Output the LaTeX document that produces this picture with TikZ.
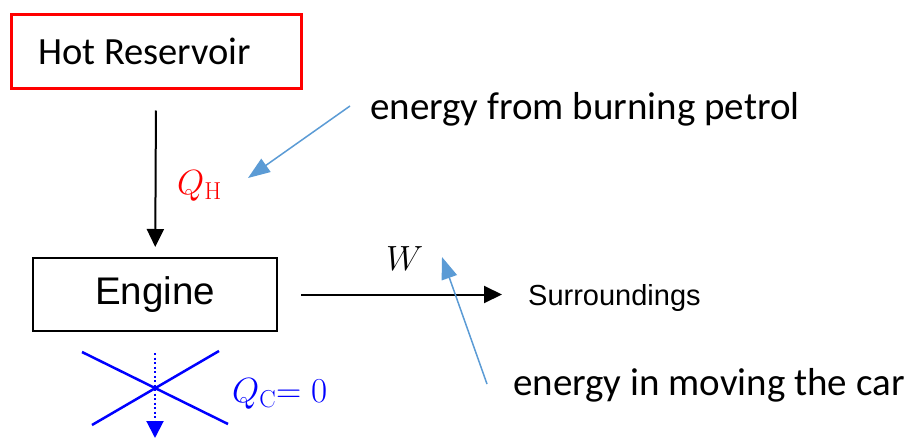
\RequirePackage{fix-cm}
\documentclass[tikz,border=0pt]{standalone}
\usepackage{fontspec}
\newfontfamily\calibri{Carlito}
\newfontfamily\arial{Liberation Sans}
\usetikzlibrary{arrows.meta}
\definecolor{lblue}{HTML}{5B9BD5}
\definecolor{xblue}{HTML}{0000FF}
\tikzset{
  box/.style={draw, line width=2pt, inner ysep=0pt},
  cal/.style={font=\calibri\fontsize{39}{40}\selectfont, inner sep=0pt},
  ari/.style={font=\arial\fontsize{38.5}{40}\selectfont, inner sep=0pt},
  mathlbl/.style={inner sep=0pt, anchor=base west, font=\fontsize{35}{37}\selectfont},
  flow/.style={line width=2pt, -{Triangle[length=18pt,width=17pt]}},
  note/.style={draw=lblue, line width=1.5pt, -{Triangle[length=22pt,width=16pt]}, fill=lblue},
  crossline/.style={draw=xblue, line width=2.5pt},
}
\begin{document}
\begin{tikzpicture}[x=1pt,y=-1pt]
\useasboundingbox (0,0) rectangle (911,442);

% boxes
\node[box, draw=red, line width=2.5pt, cal, font=\calibri\fontsize{38.5}{40}\selectfont,
      inner xsep=27pt, minimum height=74pt, anchor=north west] (hot) at (10,13)
      {\makebox[236pt][l]{Hot Reservoir}};
\node[box, ari, minimum width=244pt, minimum height=73pt] (eng) at (155,294.5) {Engine};

% texts
\node[ari, font=\arial\fontsize{29}{30}\selectfont, anchor=base west] (surr) at (528,305) {Surroundings};
\node[cal, anchor=base west] (petrol) at (370,119) {energy from burning petrol};
\node[cal, anchor=base west] (car) at (513,395) {energy in moving the car};
\node[mathlbl, red] (qh) at (177,194) {$Q_{\mathrm{H}}$};
\node[mathlbl] (w) at (386,270) {$W$};
\node[mathlbl, xblue] (qc) at (232,402) {$Q_{\mathrm{C}}\mathord{=}\;0$};

% main flows
\draw[flow, shorten <=21pt, shorten >=10pt] (hot) -- (eng);
\draw[flow, shorten <=23pt, shorten >=26pt] (eng.east) -- (eng.east -| surr.west);

% rejected heat (crossed out)
\coordinate (qcend) at (155,438);
\draw[xblue, line width=2pt, dash pattern=on 2pt off 2.5pt, shorten <=21pt,
      -{Triangle[length=17pt,width=17pt]}] (eng.south) -- (qcend);
\draw[crossline] (82,352) -- (228,424);
\draw[crossline] (92,425) -- (219,351);

% annotation arrows
\coordinate (n1) at (350,106);
\coordinate (n1tip) at (248,178);
\draw[note] (n1) -- (n1tip);
\coordinate (n2) at (487,384);
\coordinate (n2tip) at (442,257);
\draw[note] (n2) -- (n2tip);
\end{tikzpicture}
\end{document}
